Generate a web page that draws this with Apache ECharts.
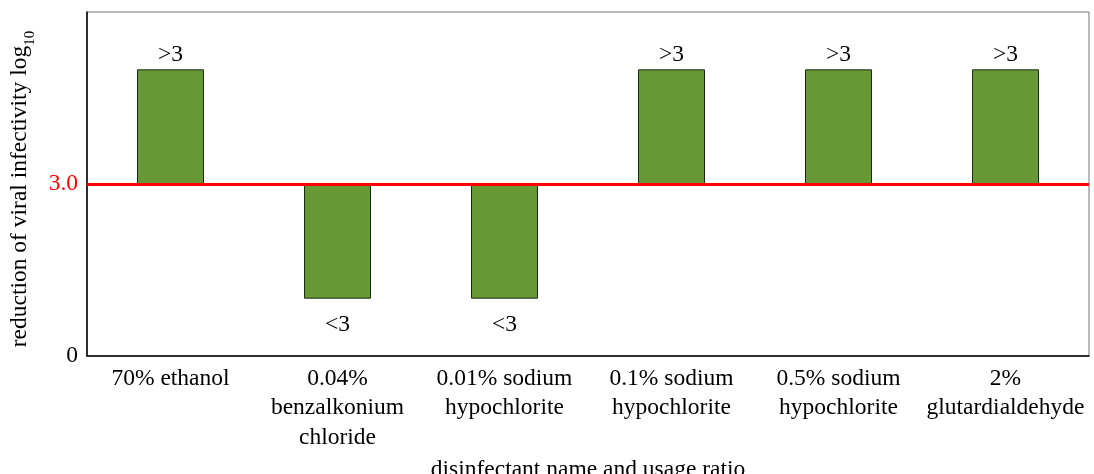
<!DOCTYPE html>
<html>
<head>
<meta charset="utf-8">
<script src="https://cdn.jsdelivr.net/npm/echarts@6/dist/echarts.min.js"></script>
<style>html,body{margin:0;padding:0;background:#fff;}#c{width:1094px;height:474px;}</style>
</head>
<body>
<div id="c"></div>
<script>
const categories = ["70% ethanol", "0.04%\nbenzalkonium\nchloride", "0.01% sodium\nhypochlorite", "0.1% sodium\nhypochlorite", "0.5% sodium\nhypochlorite", "2%\nglutardialdehyde"];
const reductionValues = [5, 1, 1, 5, 5, 5];
const valueLabels = [">3", "<3", "<3", ">3", ">3", ">3"];
const threshold = 3;
const yTicks = [0, 3];

const baseData = reductionValues.map(v => Math.min(v, threshold));
const barData = reductionValues.map((v, i) => ({
  value: Math.abs(v - threshold),
  label: v > threshold ? { position: 'top', distance: 3 } : { position: 'bottom', distance: 14 }
}));

const FONT = '"Liberation Serif", "DejaVu Serif", serif';
const FS = 23.5;
const chart = echarts.init(document.getElementById('c'), null, { renderer: 'canvas' });
chart.setOption({
  animation: false,
  textStyle: { fontFamily: FONT },
  grid: { left: 87, right: 5, top: 12, bottom: 118, outerBoundsMode: 'none', containLabel: false, show: true, borderColor: '#777', borderWidth: 1, backgroundColor: 'transparent' },
  xAxis: {
    type: 'category',
    data: categories,
    name: 'disinfectant name and usage ratio',
    nameLocation: 'middle',
    nameGap: 98,
    nameTextStyle: { fontFamily: FONT, fontSize: FS, color: '#000' },
    axisLine: { lineStyle: { color: '#000', width: 1.5 } },
    axisTick: { show: false },
    axisLabel: { fontFamily: FONT, fontSize: FS, color: '#000', lineHeight: 29.5, margin: 8, interval: 0 }
  },
  yAxis: {
    type: 'value',
    min: 0, max: 6, interval: 3,
    name: '{n|reduction of viral infectivity log}{s|10}',
    nameLocation: 'middle',
    nameGap: 49,
    nameTextStyle: {
      padding: [0, 10, 0, 0],
      rich: {
        n: { fontFamily: FONT, fontSize: FS, color: '#000', lineHeight: 30, verticalAlign: 'top' },
        s: { fontFamily: FONT, fontSize: 15, color: '#000', lineHeight: 30, verticalAlign: 'bottom' }
      }
    },
    splitLine: { show: false },
    axisTick: { show: false },
    axisLine: { show: true, lineStyle: { color: '#000', width: 1.5 } },
    axisLabel: {
      fontFamily: FONT, fontSize: FS, color: '#000', margin: 9,
      formatter: v => v === 0 ? '0' : (v === threshold ? '{r|3.0}' : ''),
      rich: { r: { color: '#ff0000', fontFamily: FONT, fontSize: FS } }
    }
  },
  series: [
    {
      type: 'bar', stack: 's', data: baseData, barWidth: 67,
      itemStyle: { color: 'transparent' }, silent: true
    },
    {
      type: 'bar', stack: 's', data: barData, barWidth: 67,
      itemStyle: { color: '#669834', borderColor: '#1a2a10', borderWidth: 1 },
      label: {
        show: true, fontFamily: FONT, fontSize: FS, color: '#000',
        formatter: p => valueLabels[p.dataIndex]
      },
      markLine: {
        silent: true, symbol: 'none', label: { show: false },
        lineStyle: { color: '#ff0000', width: 3, type: 'solid' },
        data: [{ yAxis: threshold }]
      },
      z: 3
    }
  ]
});
</script>
</body>
</html>
